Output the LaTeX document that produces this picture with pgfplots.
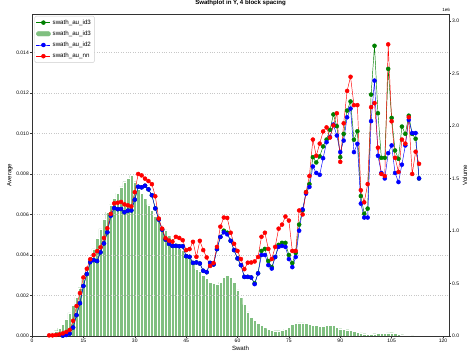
\documentclass[border=0pt]{standalone}
\usepackage{pgfplots}
\pgfplotsset{compat=1.18}
\usepackage{fontspec}
\setmainfont{Liberation Sans}
\definecolor{mgreen}{RGB}{0,128,0}
\definecolor{mblue}{RGB}{0,0,255}
\definecolor{mred}{RGB}{255,0,0}
\definecolor{barfill}{RGB}{128,191,128}
\begin{document}
\begin{tikzpicture}
\path[use as bounding box] (-32pt,-19pt) rectangle (441pt,336pt);
% ---------- bars on right axis ----------
\begin{axis}[
  scale only axis, width=417pt, height=322pt,
  xmin=0, xmax=121.75, ymin=0, ymax=3.067,
  axis x line=none, axis y line*=right,
  axis line style={black!80, line width=0.7pt},
  ytick={0,0.5,1.0,1.5,2.0,2.5,3.0},
  yticklabel style={/pgf/number format/.cd, fixed, fixed zerofill, precision=1},
  /pgf/number format/assume math mode=true,
  tick label style={font=\fontsize{5}{6}\selectfont, inner sep=1pt},
  tick align=outside, major tick length=2pt, tick style={black!80, line width=0.5pt},
  ylabel={Volume},
  ylabel style={at={(axis description cs:1.038,0.5)}, anchor=center, font=\fontsize{6.1}{7}\selectfont},
  clip=false,
]
\addplot[ybar, bar width=1, fill=barfill, draw=white, line width=0.2pt] coordinates {
(4,0.005) (5,0.015) (6,0.03) (7,0.05) (8,0.075) (9,0.11) (10,0.16) (11,0.22) (12,0.29) (13,0.37)
(14,0.46) (15,0.54) (16,0.62) (17,0.73) (18,0.83) (19,0.93) (20,1.02) (21,1.11) (22,1.18) (23,1.25)
(24,1.31) (25,1.36) (26,1.42) (27,1.47) (28,1.50) (29,1.53) (30,1.47) (31,1.40) (32,1.36) (33,1.31)
(34,1.25) (35,1.20) (36,1.14) (37,1.10) (38,1.05) (39,1.01) (40,0.96) (41,0.93) (42,0.88) (43,0.84)
(44,0.82) (45,0.79) (46,0.74) (47,0.69) (48,0.64) (49,0.62) (50,0.58) (51,0.55) (52,0.51) (53,0.50)
(54,0.49) (55,0.51) (56,0.56) (57,0.58) (58,0.56) (59,0.51) (60,0.44) (61,0.37) (62,0.30) (63,0.23)
(64,0.18) (65,0.15) (66,0.12) (67,0.10) (68,0.08) (69,0.063) (70,0.054) (71,0.05) (72,0.05) (73,0.054)
(74,0.063) (75,0.083) (76,0.11) (77,0.12) (78,0.124) (79,0.124) (80,0.12) (81,0.11) (82,0.10) (83,0.10)
(84,0.095) (85,0.095) (86,0.10) (87,0.10) (88,0.10) (89,0.085) (90,0.07) (91,0.063) (92,0.06) (93,0.055)
(94,0.045) (95,0.038) (96,0.03) (97,0.022) (98,0.018) (99,0.016) (100,0.022) (101,0.025) (102,0.025) (103,0.028)
(104,0.03) (105,0.032) (106,0.025) (107,0.018) (108,0.013) (109,0.009) (110,0.005) (111,0.002)
};
\node[anchor=south, font=\fontsize{4.5}{5}\selectfont, inner sep=0pt] at (axis description cs:0.993,1.006) {1e6};
\end{axis}
% ---------- lines on left axis ----------
\begin{axis}[
  scale only axis, width=417pt, height=322pt,
  xmin=0, xmax=121.75, ymin=0, ymax=0.0159,
  axis line style={black!80, line width=0.7pt},
  xtick={0,15,30,45,60,75,90,105,120},
  ytick={0,0.002,0.004,0.006,0.008,0.010,0.012,0.014},
  xtick pos=bottom, ytick pos=left,
  scaled y ticks=false,
  yticklabel style={/pgf/number format/.cd, fixed, fixed zerofill, precision=3},
  /pgf/number format/assume math mode=true,
  tick label style={font=\fontsize{5}{6}\selectfont, inner sep=1pt},
  tick align=outside, major tick length=2pt, tick style={black!80, line width=0.5pt},
  ymajorgrids, grid style={dotted, black!22, line width=0.45pt},
  xlabel={Swath}, ylabel={Average},
  xlabel style={at={(axis description cs:0.5,0)}, anchor=north, yshift=-7pt, font=\fontsize{6.1}{7}\selectfont},
  ylabel style={at={(axis description cs:-0.053,0.5)}, anchor=center, font=\fontsize{6.1}{7}\selectfont},
  title={Swathplot in Y, 4 block spacing},
  title style={at={(axis description cs:0.5,1)}, anchor=base, inner sep=0pt, yshift=3pt, font=\bfseries\fontsize{6.1}{7}\selectfont},
  every axis plot/.append style={line width=0.45pt, mark=*, mark size=2.0pt},
  legend style={at={(axis description cs:0.006,0.994)}, anchor=north west, draw=black!20, rounded corners=1.5pt,
    font=\fontsize{6.2}{7}\selectfont, row sep=1.2pt, inner sep=1.5pt, cells={anchor=west}},
  legend image code/.code={\draw[mark repeat=2,mark phase=2] plot coordinates {(0pt,0pt) (7pt,0pt) (14pt,0pt)};},
]
\addplot[color=mgreen, mark options={fill=mgreen}] coordinates {
(9,0.00002) (10,0.00005) (11,0.00012) (12,0.00042) (13,0.00103) (14,0.00162) (15,0.00247) (16,0.00306) (17,0.00365) (18,0.00375)
(19,0.0037) (20,0.00413) (21,0.00457) (22,0.00512) (23,0.00594) (24,0.00632) (25,0.00626) (26,0.00627) (27,0.00611) (28,0.00619)
(29,0.0062) (30,0.00673) (31,0.00737) (32,0.00734) (33,0.00742) (34,0.00724) (35,0.00695) (36,0.0063) (37,0.00575) (38,0.00525)
(39,0.00476) (40,0.00455) (41,0.00445) (42,0.00445) (43,0.00443) (44,0.00443) (45,0.00394) (46,0.00391) (47,0.00361) (48,0.00363)
(49,0.00358) (50,0.00322) (51,0.00315) (52,0.00361) (53,0.00353) (54,0.00429) (55,0.00489) (56,0.0052) (57,0.0051) (58,0.0047)
(59,0.00424) (60,0.00383) (61,0.0035) (62,0.00292) (63,0.00292) (64,0.00289) (65,0.0026) (66,0.0031) (67,0.0042) (68,0.0043)
(69,0.0037) (70,0.0034) (71,0.0039) (72,0.0045) (73,0.0046) (74,0.0046) (75,0.0040) (76,0.0036) (77,0.0041) (78,0.0055)
(79,0.0062) (80,0.0071) (81,0.0075) (82,0.00883) (83,0.00857) (84,0.00887) (85,0.00936) (86,0.0097) (87,0.01018) (88,0.01094)
(89,0.01036) (90,0.00883) (91,0.00998) (92,0.01113) (93,0.01158) (94,0.00969) (95,0.01011) (96,0.00691) (97,0.00604) (98,0.00629)
(99,0.01192) (100,0.01433) (101,0.011) (102,0.0088) (103,0.0088) (104,0.01319) (105,0.01077) (106,0.00916) (107,0.00875) (108,0.01034)
(109,0.00998) (110,0.01088) (111,0.00998) (112,0.00974) (113,0.00778)
};
\addlegendentry{swath\_au\_id3}
\addlegendimage{legend image code/.code={\fill[barfill] (0pt,-2.2pt) rectangle (14pt,2.2pt);}}
\addlegendentry{swath\_au\_id3}
\addplot[color=mblue, mark options={fill=mblue}] coordinates {
(9,0.00002) (10,0.00005) (11,0.00012) (12,0.00042) (13,0.00103) (14,0.00162) (15,0.00247) (16,0.00306) (17,0.00365) (18,0.00375)
(19,0.0037) (20,0.00413) (21,0.00457) (22,0.00512) (23,0.00594) (24,0.00632) (25,0.00626) (26,0.00627) (27,0.00611) (28,0.00619)
(29,0.0062) (30,0.00673) (31,0.00737) (32,0.00734) (33,0.00742) (34,0.00724) (35,0.00695) (36,0.0063) (37,0.00575) (38,0.00525)
(39,0.00476) (40,0.00455) (41,0.00445) (42,0.00445) (43,0.00443) (44,0.00443) (45,0.00394) (46,0.00391) (47,0.00361) (48,0.00363)
(49,0.00358) (50,0.00322) (51,0.00315) (52,0.00361) (53,0.00353) (54,0.00429) (55,0.00489) (56,0.00512) (57,0.00502) (58,0.0047)
(59,0.00424) (60,0.00383) (61,0.0035) (62,0.00292) (63,0.00292) (64,0.00289) (65,0.00256) (66,0.00309) (67,0.0040) (68,0.0040)
(69,0.0035) (70,0.00333) (71,0.0039) (72,0.0044) (73,0.00445) (74,0.0044) (75,0.0038) (76,0.0034) (77,0.0039) (78,0.0052)
(79,0.00625) (80,0.00703) (81,0.00736) (82,0.00837) (83,0.00805) (84,0.00796) (85,0.00878) (86,0.00957) (87,0.00982) (88,0.01044)
(89,0.0099) (90,0.00908) (91,0.00965) (92,0.0108) (93,0.01123) (94,0.00908) (95,0.00949) (96,0.00654) (97,0.00585) (98,0.00585)
(99,0.01061) (100,0.01261) (101,0.0089) (102,0.00805) (103,0.00778) (104,0.00903) (105,0.00941) (106,0.00805) (107,0.0076) (108,0.00846)
(109,0.00941) (110,0.01067) (111,0.01002) (112,0.01002) (113,0.00778)
};
\addlegendentry{swath\_au\_id2}
\addplot[color=mred, mark options={fill=mred}] coordinates {
(5,0.00003) (6,0.00003) (7,0.00005) (8,0.00008) (9,0.00013) (10,0.0002) (11,0.0003) (12,0.00075) (13,0.00148) (14,0.00212)
(15,0.00289) (16,0.00332) (17,0.00379) (18,0.0040) (19,0.00419) (20,0.00438) (21,0.00484) (22,0.00532) (23,0.00603) (24,0.00655)
(25,0.00658) (26,0.00662) (27,0.0065) (28,0.00645) (29,0.0064) (30,0.0071) (31,0.0080) (32,0.00793) (33,0.00777) (34,0.00765)
(35,0.0075) (36,0.0069) (37,0.0058) (38,0.0053) (39,0.00483) (40,0.00471) (41,0.00466) (42,0.0049) (43,0.00484) (44,0.00473)
(45,0.00424) (46,0.00429) (47,0.00465) (48,0.00391) (49,0.0047) (50,0.00424) (51,0.00388) (52,0.00346) (53,0.0036) (54,0.0044)
(55,0.0054) (56,0.00585) (57,0.00583) (58,0.0051) (59,0.00455) (60,0.0042) (61,0.0038) (62,0.0033) (63,0.00362) (64,0.00363)
(65,0.00368) (66,0.0039) (67,0.0049) (68,0.0051) (69,0.0043) (70,0.0038) (71,0.0044) (72,0.0053) (73,0.0055) (74,0.0059)
(75,0.0057) (76,0.0042) (77,0.0042) (78,0.0062) (79,0.0060) (80,0.0071) (81,0.0079) (82,0.0097) (83,0.0089) (84,0.0095)
(85,0.0101) (86,0.0103) (87,0.0098) (88,0.0104) (89,0.0110) (90,0.0086) (91,0.0105) (92,0.0121) (93,0.0128) (94,0.0114)
(95,0.0114) (96,0.0072) (97,0.0066) (98,0.0075) (99,0.0113) (100,0.0115) (101,0.0093) (102,0.0080) (103,0.0079) (104,0.0144)
(105,0.0106) (106,0.0088) (107,0.0081) (108,0.0097) (109,0.0095) (110,0.0108) (111,0.0080) (112,0.0091) (113,0.0085)
};
\addlegendentry{swath\_au\_nn}
\end{axis}
\end{tikzpicture}
\end{document}
